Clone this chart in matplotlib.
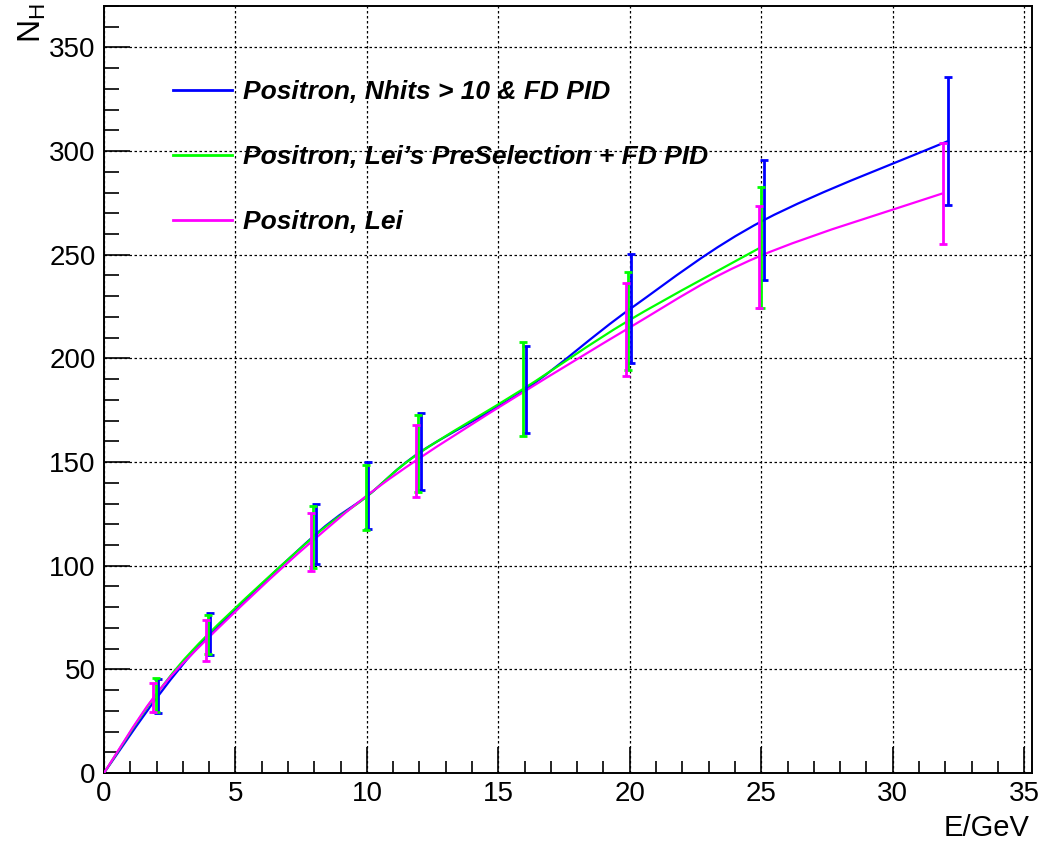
import matplotlib
matplotlib.use('Agg')
import matplotlib.pyplot as plt
from matplotlib.path import Path
from matplotlib.patches import PathPatch
from matplotlib.ticker import MultipleLocator
from matplotlib.lines import Line2D

plt.rcParams['font.family'] = ['Liberation Sans', 'DejaVu Sans']
plt.rcParams['mathtext.fontset'] = 'custom'
plt.rcParams['mathtext.rm'] = 'Liberation Sans'

# E (GeV), N_H and errors
e_nhits = [0, 2.07, 4.04, 8.07, 10.05, 12.05, 16.05, 20.05, 25.1, 32.1]
n_nhits = [0, 37.3, 66.9, 115.3, 134.0, 155.0, 185.2, 224.2, 266.7, 304.8]
err_nhits = [0, 8.2, 10.2, 14.6, 16.2, 18.7, 21.0, 26.3, 29.0, 31.0]

e_presel = [0, 1.97, 3.95, 7.95, 9.95, 11.95, 15.95, 19.95, 25.0]
n_presel = [0, 37.6, 66.8, 113.7, 132.9, 154.0, 185.3, 218.2, 253.7]
err_presel = [0, 8.2, 9.2, 15.0, 15.5, 18.5, 22.5, 23.7, 29.2]

e_lei = [0, 1.88, 3.88, 7.88, 11.85, 19.85, 24.9, 31.9]
n_lei = [0, 36.3, 64.1, 111.4, 150.6, 213.8, 249.1, 279.6]
err_lei = [0, 7.0, 9.9, 14.0, 17.5, 22.5, 24.6, 24.4]

labels = ['Positron, Nhits > 10 & FD PID',
          "Positron, Lei\u2019s PreSelection + FD PID",
          'Positron, Lei']
colors = ['#0000ff', '#00ff00', '#ff00ff']


def smooth_path(xs, ys):
    """Catmull-Rom curve through the points, drawn as bezier segments (like ROOT 'C')."""
    pts = list(zip(xs, ys))
    verts = [pts[0]]
    codes = [Path.MOVETO]
    n = len(pts)
    for i in range(n - 1):
        p0 = pts[max(i - 1, 0)]
        p1 = pts[i]
        p2 = pts[i + 1]
        p3 = pts[min(i + 2, n - 1)]
        c1 = (p1[0] + (p2[0] - p0[0]) / 6., p1[1] + (p2[1] - p0[1]) / 6.)
        c2 = (p2[0] - (p3[0] - p1[0]) / 6., p2[1] - (p3[1] - p1[1]) / 6.)
        verts += [c1, c2, p2]
        codes += [Path.CURVE4] * 3
    return Path(verts, codes)


fig = plt.figure(figsize=(10.47, 8.42), dpi=100)
ax = fig.add_axes([104 / 1047, 1 - 773 / 842, (1032 - 104) / 1047, (773 - 6) / 842])

series = [(e_nhits, n_nhits, err_nhits), (e_presel, n_presel, err_presel), (e_lei, n_lei, err_lei)]
for (x, y, err), col, lab in zip(series, colors, labels):
    ax.add_patch(PathPatch(smooth_path(x, y), fill=False, edgecolor=col, lw=1.6, zorder=3))
    ax.errorbar(x[1:], y[1:], yerr=err[1:], fmt='none', ecolor=col, elinewidth=2.0,
                capsize=3, capthick=2.0, zorder=4)

ax.set_xlim(0, 35.3)
ax.set_ylim(0, 370)
ax.xaxis.set_major_locator(MultipleLocator(5))
ax.xaxis.set_minor_locator(MultipleLocator(1))
ax.yaxis.set_major_locator(MultipleLocator(50))
ax.yaxis.set_minor_locator(MultipleLocator(10))
ax.tick_params(which='both', direction='in', top=False, right=False, colors='black',
               labelsize=20, width=1.2)
ax.tick_params(axis='x', which='major', length=19, pad=6)
ax.tick_params(axis='x', which='minor', length=9)
ax.tick_params(axis='y', which='major', length=19, pad=6)
ax.tick_params(axis='y', which='minor', length=11)
ax.grid(True, which='major', color='black', linestyle=(0, (2, 2)), lw=0.9)
for sp in ax.spines.values():
    sp.set_linewidth(1.4)

fig.text(1030 / 1047, 1 - 828 / 842, 'E/GeV', fontsize=21, ha='right', va='center')
fig.text(32 / 1047, 1 - 3 / 842, r'N$_{\mathregular{H}}$', fontsize=23, rotation=90,
         ha='center', va='top')

handles = [Line2D([], [], color=c, lw=2) for c in colors]
ax.legend(handles, labels, loc='upper left', bbox_to_anchor=(173 / 1047, 1 - 80 / 842),
          bbox_transform=fig.transFigure, frameon=False, borderpad=0, borderaxespad=0,
          handlelength=2.23, handletextpad=0.42, labelspacing=1.55,
          prop={'size': 19, 'weight': 'bold', 'style': 'italic'})

fig.savefig('out.png', dpi=100)
